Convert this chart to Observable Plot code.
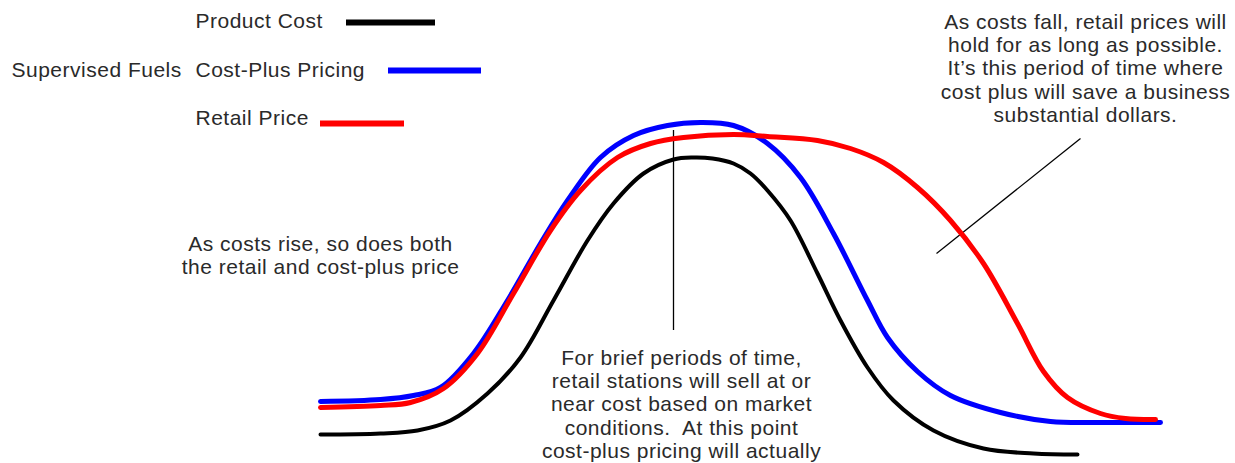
<!DOCTYPE html>
<html>
<head>
<meta charset="utf-8">
<script src="https://cdn.jsdelivr.net/npm/d3@7"></script>
<script src="https://cdn.jsdelivr.net/npm/@observablehq/plot@0.6"></script>
<style>
  html, body { margin: 0; padding: 0; background: #fff; }
  #chart svg text { letter-spacing: 0.5px; }
</style>
</head>
<body>
<div id="chart"></div>
<script>
// ---- Data (conceptual time / price units) ----
const seriesNames = ["Product Cost", "Cost-Plus Pricing", "Retail Price"];

const costTime  = [320,380,417,450,487,520,553,587,613,643,673,693,712,733,750,767,790,817,840,867,893,933,983,1033,1077];
const costPrice = [29,30,33,43,70,106,163,223,260,290,304,306,305,300,290,273,243,190,143,96,63,33,15,10,9];

const plusTime  = [320,380,413,440,473,507,540,567,600,633,667,700,733,767,800,833,867,887,917,950,1000,1050,1100,1160];
const plusPrice = [62,64,68,76,110,163,220,263,306,328,338,341,338,320,286,230,163,126,92,68,51,42,41,41];

const retailTime  = [320,380,410,443,477,513,550,580,617,650,683,733,767,817,850,883,917,950,983,1017,1043,1067,1100,1125,1155];
const retailPrice = [56,58,61,75,110,170,233,273,306,320,326,329,327,323,315,301,276,243,200,140,92,66,50,45,44];

const groupLabel = "Supervised Fuels";
const noteRise = "As costs rise, so does both\nthe retail and cost-plus price";
const noteFall = "As costs fall, retail prices will\nhold for as long as possible.\nIt\u2019s this period of time where\ncost plus will save a business\nsubstantial dollars.";
const noteBrief = "For brief periods of time,\nretail stations will sell at or\nnear cost based on market\nconditions.  At this point\ncost-plus pricing will actually";

// ---- Build tidy table ----
const toRows = (name, t, p) => t.map((x, i) => ({series: name, time: x, price: p[i]}));
const rows = [
  ...toRows(seriesNames[0], costTime, costPrice),
  ...toRows(seriesNames[1], plusTime, plusPrice),
  ...toRows(seriesNames[2], retailTime, retailPrice)
];

// ---- Layout (annotation / legend placement, in scale units) ----
const W = 1235, H = 463;
const legendLayout = [
  {series: seriesNames[0], tx: 195, ty: 450, x1: 346, x2: 435, y: 441},
  {series: seriesNames[1], tx: 195, ty: 401, x1: 388, x2: 481, y: 393},
  {series: seriesNames[2], tx: 195, ty: 353, x1: 320, x2: 404, y: 340}
];
const colors = ["#000000", "#0000ff", "#ff0000"];
const textFill = "#2a2a2a";
const fs = 21;
const lh = 1.107;

const plot = Plot.plot({
  width: W,
  height: H,
  margin: 0,
  x: {domain: [0, W], axis: null},
  y: {domain: [0, H], axis: null},
  color: {domain: seriesNames, range: colors},
  style: {fontFamily: "'Liberation Sans', Arial, sans-serif", background: "#fff"},
  marks: [
    // annotation leader lines
    Plot.ruleX([673], {y1: 133, y2: 333, stroke: "#000", strokeWidth: 1.3}),
    Plot.link([0], {x1: () => 1080, y1: () => 325, x2: () => 936, y2: () => 210, stroke: "#000", strokeWidth: 1.3}),
    // curves
    Plot.line(rows.filter(d => d.series === seriesNames[0]), {x: "time", y: "price", stroke: "series", strokeWidth: 4, curve: "catmull-rom"}),
    Plot.line(rows.filter(d => d.series === seriesNames[1]), {x: "time", y: "price", stroke: "series", strokeWidth: 5, curve: "catmull-rom"}),
    Plot.line(rows.filter(d => d.series === seriesNames[2]), {x: "time", y: "price", stroke: "series", strokeWidth: 5, curve: "catmull-rom"}),
    // legend
    Plot.ruleY(legendLayout, {y: "y", x1: "x1", x2: "x2", stroke: "series", strokeWidth: 6}),
    Plot.text(legendLayout, {x: "tx", y: "ty", text: "series", textAnchor: "start", lineAnchor: "top", fontSize: fs, fill: textFill}),
    Plot.text([groupLabel], {x: () => 11, y: () => 401, text: d => d, textAnchor: "start", lineAnchor: "top", fontSize: fs, fill: textFill}),
    // notes
    Plot.text([noteRise], {x: () => 320, y: () => 229, text: d => d, textAnchor: "middle", lineAnchor: "top", lineHeight: lh, fontSize: fs, fill: textFill}),
    Plot.text([noteFall], {x: () => 1085, y: () => 451, text: d => d, textAnchor: "middle", lineAnchor: "top", lineHeight: lh, fontSize: fs, fill: textFill}),
    Plot.text([noteBrief], {x: () => 681, y: () => 115, text: d => d, textAnchor: "middle", lineAnchor: "top", lineHeight: lh, fontSize: fs, fill: textFill})
  ]
});
document.getElementById("chart").appendChild(plot);
</script>
</body>
</html>
